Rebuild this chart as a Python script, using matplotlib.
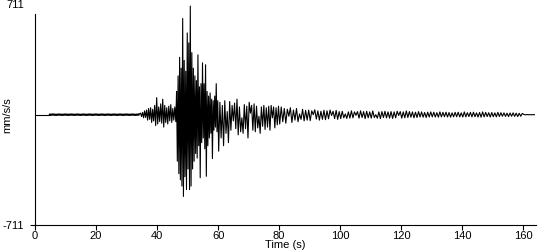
import numpy as np
import matplotlib
matplotlib.use('Agg')
import matplotlib.pyplot as plt

plt.rcParams['font.family'] = ['Liberation Sans', 'DejaVu Sans']
plt.rcParams['font.size'] = 8

# seismogram trace read off the picture (mm/s/s), sampled in segments
# quiet part before the first arrival
quiet_t0, quiet_dt = 4.9, 1.0
quiet = [0, 1, -1, 1, -1, 1, -1, 1, -1, 1, -1, 1, -1, 1, -1, 1, -1, 1, -1, 1,
         -1, 1, -1, 1, -1, 1, -1, 1, -1, 1]

# P-wave onset
onset_t0, onset_dt = 34.6, 0.33
onset = [10, -12, 15, -20, 25, -18, 30, -35, 40, -30, 45, -50, 35, -40, 60, -70,
         110, -60, 50, -45, 70, -55, 100, -80, 60, -50, 45, -60, 55, -40, 65, -50,
         40, -35, 50, -45]

# strong motion
strong_t0, strong_dt = 46.4, 0.25
strong = [150, -300, 250, -380, 370, -420, 300, -460, 620, -527, 350, -400, 280,
          -483, 527, -350, 463, -483, 700, -460, 400, -350, 300, -300, 250, -250,
          220, -280, 386, -200, 180, -406, 200, -180, 334, -150, 200, -220, 322,
          -397, 150, -200, 120, -150, 140, -120, 100, -283, 90, -100, 120, -80,
          200, -110, 90]

# coda
coda_t0, coda_dt = 60.2, 0.4
coda = [-235, 80, -150, 60, -200, 90, -120, 20, -180, 85,
        -100, 60, -40, 75, -90, 100, -130, 50, -110, -20,
        -120, 65, -90, 55, -150, 80, 10, 60, -100, 70,
        -110, 55, -85, -10, -120, 50, -75, 60, -95, 45,
        -80, 55, -100, 60, -20, 50, -85, 45, -65, 55]

# tail
tail_t0, tail_dt = 80.2, 0.5
tail = [-60, 50, -45, 40, -55, 35, -10, 45, -50, 30, -35, 40, -45, 5, -30, 35,
        -40, 28, -35, 30, -38, 25, 0, 32, -28, 25, -35, 22, -30, 28,
        -32, 25, -26, 30, -5, 22, -25, 28, -30, 20,
        -25, 22, -20, 5, -24, 18, -22, 25, -20, 18, -4, 20, -22, 25, -18, 20,
        -25, 22, -20, 18, -22, 24, -18, 0, -22, 18, -25, 20, -18, 22, -20, 18,
        -22, 20, -24, 18, -20, 22, -5, 20, -22, 18, -20, 24, -18, 20, -16, 18,
        -20, 16, -18, 20, -15, 18, -16, 14, -18, 16,
        -15, 18, -14, 16, -15, 13, -16, 18, -14, 15, -13, 16, -15, 14, -16, 12,
        -14, 15, -13, 16, -14, 12, -15, 18, -14, 13, -12, 15, -14, 16, -13, 12,
        -15, 14, -16, 18, -14, 15, -12, 13, -15, 14, -13, 12, -14, 15, -12, 13,
        -10, 12, -11, 10, -12, 11, -10, 12, -11, 10, -12, 9, -10, 8]

end_t0, end_dt = 160.2, 0.5
end = [2, -1, 1, 0, 0, 0, 0, 0]

segments = [(onset_t0, onset_dt, onset), (strong_t0, strong_dt, strong),
            (coda_t0, coda_dt, coda), (tail_t0, tail_dt, tail),
            (end_t0, end_dt, end)]

t = []
v = []
for t0, dt, vals in segments:
    t.extend(t0 + dt * np.arange(len(vals)))
    v.extend(vals)

quiet_time = quiet_t0 + quiet_dt * np.arange(len(quiet))

fig = plt.figure(figsize=(5.5, 2.5), dpi=100)
ax = fig.add_axes([35 / 550, 1 - 225 / 250, (536 - 35) / 550, (225 - 4.4) / 250])
ax.plot([0, quiet_t0], [0, 0], color='black', linewidth=0.8)
ax.plot(quiet_time, quiet, color='black', linewidth=1.6)
ax.plot([quiet_time[-1]] + t, [quiet[-1]] + v, color='black', linewidth=0.8)

ax.set_xlim(0, 164.2)
ax.set_ylim(-711, 711)
ax.set_xticks(np.arange(0, 161, 20))
ax.set_yticks([-711, 711])
ax.set_yticklabels(['-711', '711'])
ax.tick_params(direction='out', length=3.5, width=0.8, pad=1, colors='black')
ax.tick_params(axis='y', length=3.6, pad=4)
ax.yaxis.get_major_ticks()[1].tick1line.set_visible(False)
ax.spines['top'].set_visible(False)
ax.spines['right'].set_visible(False)
ax.spines['left'].set_bounds(-711, 650)
ax.set_xlabel('Time (s)', labelpad=-1)
ax.set_ylabel('mm/s/s')
ax.yaxis.set_label_coords(-0.046, 0.5)

fig.savefig('out.png', dpi=100)
